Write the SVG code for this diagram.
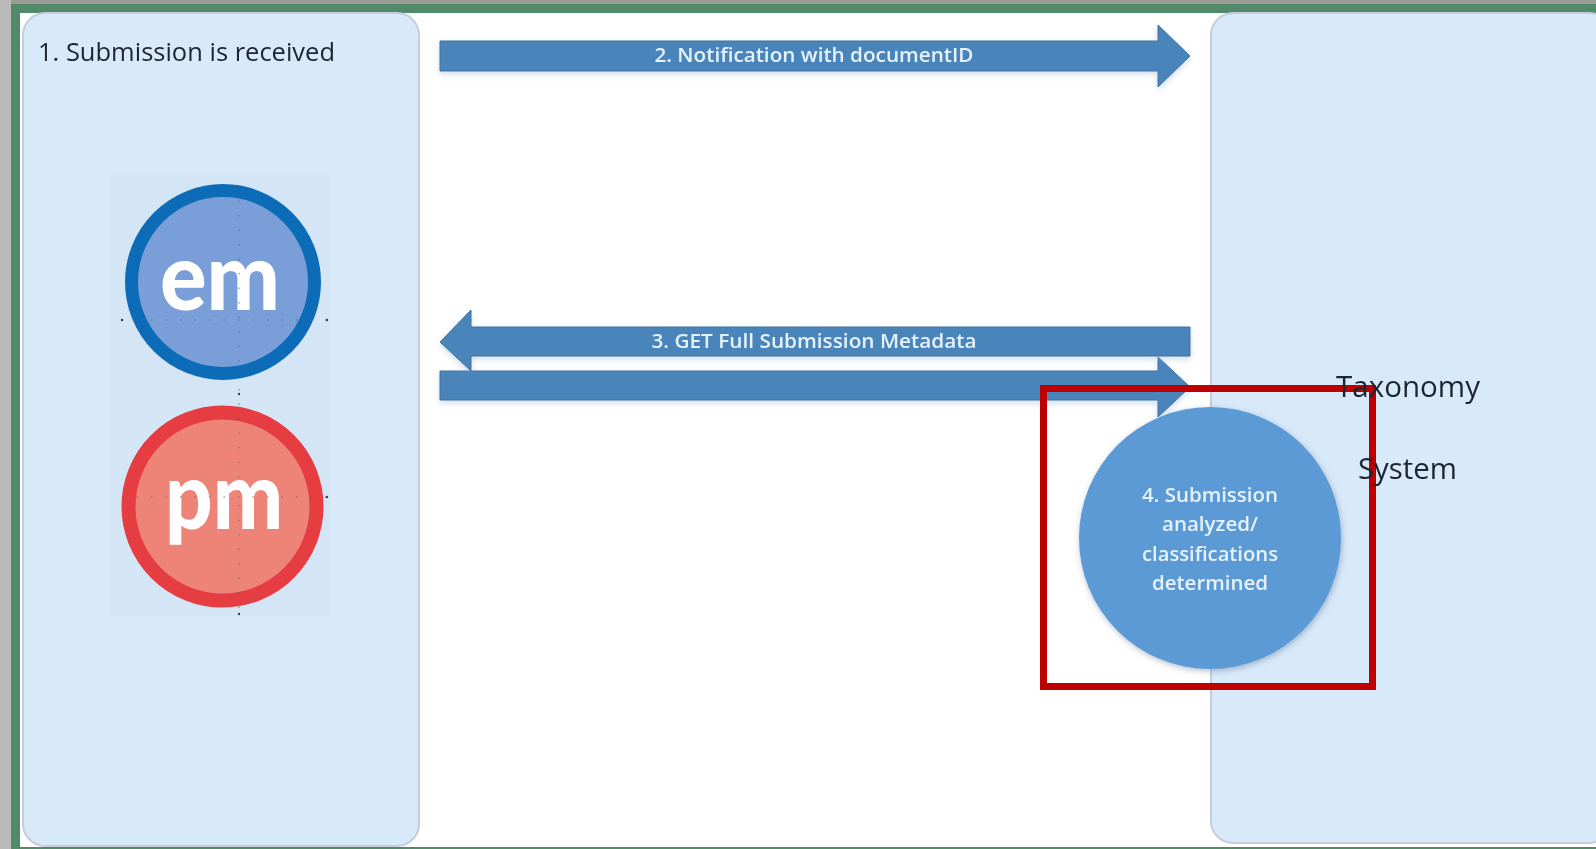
<svg xmlns="http://www.w3.org/2000/svg" width="1596" height="849" viewBox="0 0 1596 849">
<style>
.panel{fill:#d8e9fa;stroke:#c6cdd8;stroke-width:2}
.arrow{fill:#4a84bb;stroke:#41709f;stroke-width:1;filter:url(#soft)}
.lbl{font-family:"Open Sans","Noto Sans",sans-serif;fill:#e6f2fb;text-anchor:middle;font-size:20.5px;font-weight:600}
.dark{font-family:"Open Sans","Noto Sans",sans-serif;fill:#1d2530}
.logo{font-family:"Lato","Open Sans",sans-serif;font-weight:900;fill:#fff;text-anchor:middle}
.guide{stroke:#55606e;stroke-width:1.5;stroke-dasharray:1.5 13;fill:none;opacity:.55}
.tick{fill:#39424e}
</style>
<defs>
<filter id="soft" x="-5%" y="-30%" width="110%" height="170%">
<feDropShadow dx="0" dy="3" stdDeviation="3" flood-color="#7fa6cc" flood-opacity=".35"/>
</filter>
<filter id="circ" x="-10%" y="-10%" width="120%" height="120%">
<feDropShadow dx="1" dy="2" stdDeviation="3" flood-color="#54708c" flood-opacity=".45"/>
</filter>
<filter id="jpeg" x="0" y="0" width="100%" height="100%">
<feGaussianBlur stdDeviation="0.55"/>
</filter>
</defs>
<rect width="1596" height="849" fill="#fff"/>
<g filter="url(#jpeg)">
<g id="frame">
<rect x="0" y="0" width="1596" height="5" fill="#9b9b96"/>
<rect x="0" y="0" width="11" height="849" fill="#b9b9b7"/>
<rect x="11" y="4" width="1585" height="9" fill="#518a69"/>
<rect x="11" y="4" width="9" height="845" fill="#518a69"/>
<rect x="20" y="847" width="1576" height="2" fill="#518a69"/>
</g>
<g id="submission-panel">
<rect class="panel" x="23" y="13" width="396" height="833" rx="22"/>
<text class="dark" x="38" y="61" font-size="25px" textLength="297" lengthAdjust="spacingAndGlyphs">1. Submission is received</text>
</g>
<g id="logos">
<rect x="110" y="174" width="220" height="442" fill="#d4e5f6"/>
<g id="em-logo">
<circle cx="223" cy="282" r="91.5" fill="#7a9fd8" stroke="#0f6cb8" stroke-width="13"/>
<text class="logo" x="220" y="310" font-size="94px" textLength="120" lengthAdjust="spacingAndGlyphs">em</text>
</g>
<g id="pm-logo">
<circle cx="222.5" cy="506.5" r="94" fill="#ee8478" stroke="#e63c42" stroke-width="14"/>
<text class="logo" x="224" y="529" font-size="94px" textLength="118" lengthAdjust="spacingAndGlyphs">pm</text>
</g>
<path class="guide" d="M239 186V614M122 320H328M122 497H328"/>
<circle class="tick" cx="239" cy="394" r="1.2"/><circle class="tick" cx="239" cy="614" r="1.2"/>
<circle class="tick" cx="122" cy="320" r="1.2"/><circle class="tick" cx="327" cy="320" r="1.2"/>
<circle class="tick" cx="327" cy="497" r="1.2"/>
</g>
<g id="taxonomy-panel">
<rect class="panel" x="1211" y="13" width="400" height="830" rx="22"/>
</g>
<g id="connectors">
<g id="arrow-notification">
<path class="arrow" d="M440 41H1158V25L1190 56L1158 87V71H440Z"/>
<text class="lbl" x="814" y="62" textLength="319" lengthAdjust="spacingAndGlyphs">2. Notification with documentID</text>
</g>
<g id="arrow-post">
<path class="arrow" d="M440 371H1158V357L1190 387L1158 417V400H440Z"/>
</g>
<g id="arrow-get">
<path class="arrow" d="M1190 327H471V310L440 342L471 371V356H1190Z"/>
<text class="lbl" x="814" y="348" textLength="325" lengthAdjust="spacingAndGlyphs">3. GET Full Submission Metadata</text>
</g>
</g>
<g id="analysis-node">
<circle cx="1210" cy="538" r="131" fill="#5b9ad5" filter="url(#circ)"/>
<text class="lbl" x="1210" y="502" textLength="136" lengthAdjust="spacingAndGlyphs">4. Submission</text>
<text class="lbl" x="1210" y="531" textLength="96" lengthAdjust="spacingAndGlyphs">analyzed/</text>
<text class="lbl" x="1210" y="561" textLength="136" lengthAdjust="spacingAndGlyphs">classifications</text>
<text class="lbl" x="1210" y="590" textLength="116" lengthAdjust="spacingAndGlyphs">determined</text>
</g>
<g id="highlight">
<rect x="1043.5" y="388.5" width="329" height="298" fill="none" stroke="#bf0000" stroke-width="7"/>
</g>
<g id="taxonomy-label">
<text class="dark" x="1336" y="397" font-size="29px" textLength="144" lengthAdjust="spacingAndGlyphs">Taxonomy</text>
<text class="dark" x="1358" y="479" font-size="29px" textLength="99" lengthAdjust="spacingAndGlyphs">System</text>
</g>
</g>
</svg>
